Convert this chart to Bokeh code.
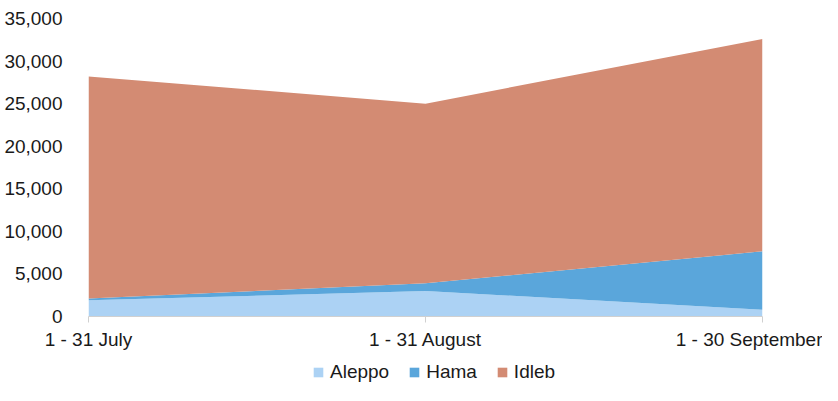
from bokeh.plotting import figure
from bokeh.layouts import column
from bokeh.models import ColumnDataSource, FixedTicker, NumeralTickFormatter, Legend, LegendItem, Range1d
from bokeh.embed import file_html
from bokeh.resources import INLINE

categories = ["1 - 31 July", "1 - 31 August", "1 - 30 September"]
aleppo = [1900, 3000, 800]
hama = [200, 900, 6850]
idleb = [26100, 21100, 24950]
series = ["Aleppo", "Hama", "Idleb"]
colors = ["#acd2f4", "#5aa6db", "#d38b73"]
y_ticks = [0, 5000, 10000, 15000, 20000, 25000, 30000, 35000]

FONT = "Liberation Sans"
FS = "19px"
TXT = "#1a1a1a"

src = ColumnDataSource(dict(x=list(range(len(categories))), Aleppo=aleppo, Hama=hama, Idleb=idleb))

p = figure(frame_width=674, frame_height=298, output_backend="svg", toolbar_location=None,
           x_range=Range1d(0, len(categories) - 1), y_range=Range1d(0, 35000),
           min_border_left=88, min_border_right=60, min_border_top=18, min_border_bottom=36)
p.outline_line_color = None
p.xgrid.visible = False
p.ygrid.visible = False

p.varea_stack(stackers=series, x="x", color=colors, source=src)

p.xaxis.ticker = FixedTicker(ticks=list(range(len(categories))))
p.xaxis.major_label_overrides = {i: c for i, c in enumerate(categories)}
p.xaxis.axis_line_color = "#d0d0d0"
p.xaxis.major_tick_line_color = "#d0d0d0"
p.xaxis.major_tick_out = 6
p.xaxis.major_tick_in = 0
p.xaxis.minor_tick_line_color = None
p.xaxis.major_label_standoff = 6
p.xaxis.major_label_text_font = FONT
p.xaxis.major_label_text_font_size = FS
p.xaxis.major_label_text_color = TXT

p.yaxis.ticker = FixedTicker(ticks=y_ticks)
p.yaxis.formatter = NumeralTickFormatter(format="0,0")
p.yaxis.axis_line_color = None
p.yaxis.major_tick_line_color = None
p.yaxis.minor_tick_line_color = None
p.yaxis.major_label_standoff = 20
p.yaxis.major_label_text_font = FONT
p.yaxis.major_label_text_font_size = FS
p.yaxis.major_label_text_color = TXT

# legend strip below the chart (its frame is aligned with the chart's frame)
lf = figure(frame_width=674, height=385 - (18 + 298 + 36), output_backend="svg", toolbar_location=None,
            x_range=Range1d(0, 1), y_range=Range1d(-2, -1),
            x_axis_location=None, y_axis_location=None,
            min_border_left=88, min_border_right=60, min_border_top=0, min_border_bottom=0,
            outline_line_color=None)
lf.xgrid.visible = False
lf.ygrid.visible = False
lrs = lf.varea_stack(stackers=series, x="x", color=colors, source=src)

legend = Legend(items=[LegendItem(label=s, renderers=[r]) for s, r in zip(series, lrs)],
                orientation="horizontal", location=(224, 2),
                border_line_color=None, background_fill_alpha=0,
                padding=0, margin=0, spacing=19, label_standoff=6,
                glyph_width=12, glyph_height=12, label_height=19,
                label_text_font=FONT, label_text_font_size=FS, label_text_color=TXT)
lf.add_layout(legend)

layout = column(p, lf, spacing=0)
open("out.html", "w").write(file_html(layout, INLINE))
